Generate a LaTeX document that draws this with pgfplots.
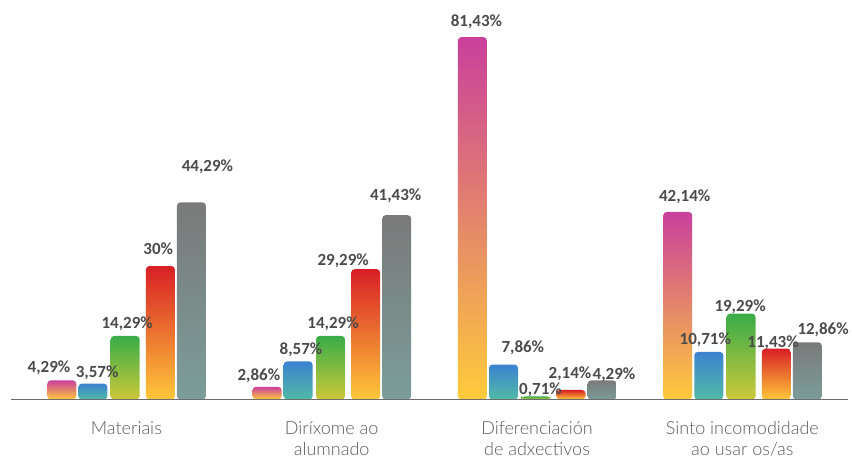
\documentclass[border=0pt]{standalone}
\usepackage{fontspec}
\setmainfont{Lato}
\IfFontExistsTF{Lato Light}{\newfontfamily\catfont{Lato Light}}{\newfontfamily\catfont{Lato}}
\newfontfamily\valfont{Carlito}
\usepackage{pgfplots}
\usepackage{pgfplotstable}
\pgfplotsset{compat=1.18}

\definecolor{pinkT}{HTML}{C9409C}\definecolor{pinkB}{HTML}{FFCB3B}
\definecolor{blueT}{HTML}{3B82D0}\definecolor{blueB}{HTML}{52BAA5}
\definecolor{greenT}{HTML}{38AC48}\definecolor{greenB}{HTML}{CDC83A}
\definecolor{redT}{HTML}{D81F26}\definecolor{redB}{HTML}{FFC73A}
\definecolor{grayT}{HTML}{7A7A7A}\definecolor{grayB}{HTML}{7B9D99}
\definecolor{valgray}{HTML}{4A4A4A}
\definecolor{catgray}{HTML}{5A5A5A}
\definecolor{axgray}{HTML}{6D6D6D}

% x = category, y = value (%), lab = label, dx/dy = label offset (pt)
\pgfplotstableread{
x y lab dx dy
0 4.29 4,29 -12.8 13
1 2.86 2,86 -8.2 11
2 81.43 81,43 4 16
3 42.14 42,14 7 15.7
}\pinkdata
\pgfplotstableread{
x y lab dx dy
0 3.57 3,57 4.2 11
1 8.57 8,57 2.8 12
2 7.86 7,86 19.3 16.8
3 10.71 10,71 -3.5 13
}\bluedata
\pgfplotstableread{
x y lab dx dy
0 14.29 14,29 2 13
1 14.29 14,29 2.5 12.5
2 0.71 0,71 4.7 7
3 19.29 19,29 -1 7
}\greendata
\pgfplotstableread{
x y lab dx dy
0 30 30 -2.2 17
1 29.29 29,29 -22.5 9
2 2.14 2,14 -1 16.5
3 11.43 11,43 -3.3 6
}\reddata
\pgfplotstableread{
x y lab dx dy
0 44.29 44,29 16 35.7
1 41.43 41,43 -1 20
2 4.29 4,29 12 6
3 12.86 12,86 15.8 12.7
}\graydata

\pgfplotsset{
  vals/.style={
    ybar, bar width=29pt, draw=none, rounded corners=3.5pt,
    point meta=explicit symbolic,
    visualization depends on={\thisrow{dx} \as \dx},
    visualization depends on={\thisrow{dy} \as \dy},
    nodes near coords={\pgfplotspointmeta\%},
    nodes near coords align=vertical,
    every node near coord/.append style={
      font=\valfont\bfseries\fontsize{17}{17}\selectfont, text=valgray,
      anchor=south, inner sep=0pt, text height=10.7pt, text depth=0pt,
      rounded corners=0pt,
      xshift=\dx pt, yshift=\dy pt-5.35pt},
  },
  onebar/.style n args={3}{vals, bar shift=#1, top color=#2, bottom color=#3,
    every node near coord/.append style={xshift=#1}},
}

\begin{document}
\begin{tikzpicture}
\begin{axis}[
  scale only axis,
  width=837pt, height=399.5pt,
  xmin=-0.5621, xmax=3.5148,
  ymin=1, ymax=90.78,
  axis x line=bottom,
  axis y line=none,
  x axis line style={-, draw=axgray, line width=1pt},
  axis on top,
  xtick={0,1,2,3},
  xticklabels={Materiais, {Diríxome ao\\alumnado}, {Diferenciación\\de adxectivos}, {Sinto incomodidade\\ao usar os/as}},
  major tick length=0pt,
  xticklabel style={font=\catfont\fontsize{18}{20.5}\selectfont, text=catgray, align=center, anchor=north, inner sep=0pt, yshift=-22pt},
  ytick=\empty,
]
\pgfplotsinvokeforeach{0,1,2,3}{
\addplot[onebar={-64.6pt}{pinkT}{pinkB}, restrict x to domain=#1:#1] table[x=x, y expr=\thisrow{y}+1, meta=lab] {\pinkdata};
\addplot[onebar={-33.5pt}{blueT}{blueB}, restrict x to domain=#1:#1] table[x=x, y expr=\thisrow{y}+1, meta=lab] {\bluedata};
\addplot[onebar={-1.2pt}{greenT}{greenB}, restrict x to domain=#1:#1] table[x=x, y expr=\thisrow{y}+1, meta=lab] {\greendata};
\addplot[onebar={34pt}{redT}{redB}, restrict x to domain=#1:#1] table[x=x, y expr=\thisrow{y}+1, meta=lab] {\reddata};
\addplot[onebar={65pt}{grayT}{grayB}, restrict x to domain=#1:#1] table[x=x, y expr=\thisrow{y}+1, meta=lab] {\graydata};
}
\end{axis}
\pgfresetboundingbox
\path[use as bounding box] ([xshift=-11pt,yshift=-59.5pt]current axis.south west) rectangle ([xshift=4pt]current axis.north east);
\end{tikzpicture}
\end{document}
